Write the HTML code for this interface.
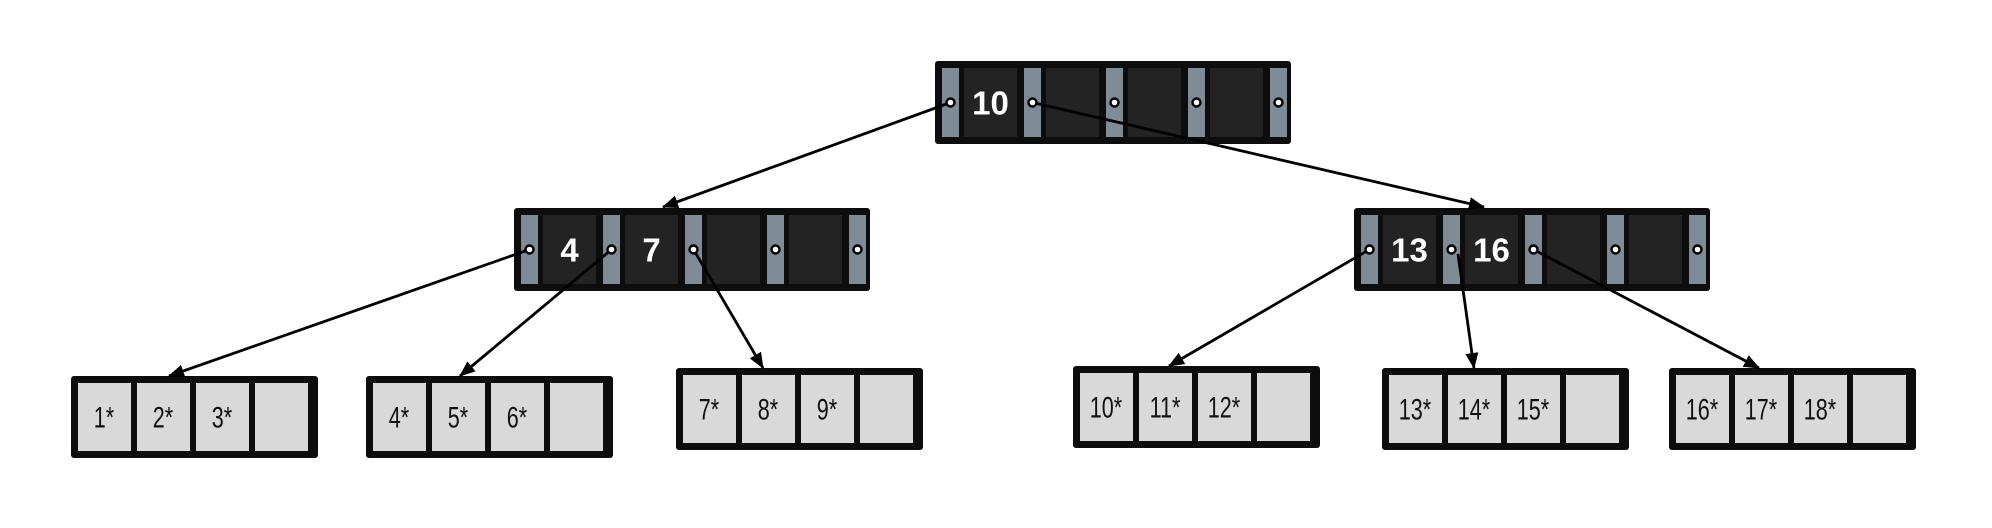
<!DOCTYPE html>
<html><head><meta charset="utf-8"><style>
html,body{margin:0;padding:0;background:#fff;}
svg{display:block;}
</style></head><body>
<svg id="tree" width="1992" height="528" viewBox="0 0 1992 528" xmlns="http://www.w3.org/2000/svg">
<defs><marker id="ah" markerWidth="16" markerHeight="13" refX="15" refY="6.5" orient="auto" markerUnits="userSpaceOnUse"><path d="M0,0 L16,6.5 L0,13 z" fill="#000"/></marker></defs>
<g id="lines"></g><g id="nodes"></g><g id="dots"></g>
</svg>
<script>
const innerNodes = [ {x:935,y:61,keys:["10"]}, {x:514,y:208,keys:["4","7"]}, {x:1354,y:208,keys:["13","16"]} ];
const innerNames = ["root-node","left-inner-node","right-inner-node"];
const leafX = [71,366,676,1073,1382,1669];
const leafY = [376,376,368,366,368,368];
const leafKeys = [["1*","2*","3*"],["4*","5*","6*"],["7*","8*","9*"],["10*","11*","12*"],["13*","14*","15*"],["16*","17*","18*"]];
const edges = [
 {n:0,p:0,tx:663,ty:207},{n:0,p:1,tx:1484,ty:207},
 {n:1,p:0,tx:169,ty:376},{n:1,p:1,tx:460,ty:376},{n:1,p:2,tx:763,ty:368},
 {n:2,p:0,tx:1169,ty:366},{n:2,p:1,tx:1474,ty:368,sx:1458,sy:254},{n:2,p:2,tx:1759,ty:368}
];
const NS="http://www.w3.org/2000/svg";
function mk(tag,attrs,parent){const e=document.createElementNS(NS,tag);for(const k in attrs)e.setAttribute(k,attrs[k]);parent.appendChild(e);return e;}
const gN=document.getElementById('nodes'),gD=document.getElementById('dots');
const PW=17,KW=53,STEP=82,H=83,B=7;
function ptrX(n,i){return n.x+B+PW/2+STEP*i;}
innerNodes.forEach((n,ni)=>{
  const g=mk('g',{},gN);
  
  
  mk('rect',{x:n.x,y:n.y,width:356,height:H,rx:3,fill:'#0d0d0d'},g);
  for(let i=0;i<5;i++){
    const px=n.x+B+STEP*i;
    const pr=mk('rect',{x:px,y:n.y+B,width:PW,height:H-2*B,fill:'#7f8b96'},g);
    
    
    if(i<4){
      const kr=mk('rect',{x:px+PW+5,y:n.y+B,width:KW,height:H-2*B,fill:'#232323'},g);
      
      
      if(n.keys[i]){
        const t=mk('text',{x:px+PW+5+KW/2,y:n.y+H/2+12,'text-anchor':'middle','font-family':'Liberation Sans, sans-serif','font-weight':'bold','font-size':'33',fill:'#fff'},g);
        t.textContent=n.keys[i];
        
        
      }
    }
    const c=mk('circle',{cx:ptrX(n,i),cy:n.y+H/2,r:4,fill:'#fff',stroke:'#000','stroke-width':2.4},gD);
    
    
  }
});
leafX.forEach((lx,li)=>{
  const ly=leafY[li];
  const g=mk('g',{},gN);
  
  
  mk('rect',{x:lx,y:ly,width:247,height:H-1,rx:3,fill:'#0d0d0d'},g);
  for(let i=0;i<4;i++){
    const cx=lx+B+59*i;
    const r=mk('rect',{x:cx,y:ly+B,width:53,height:H-1-2*B,fill:'#d9d9d9'},g);
    
    
    if(leafKeys[li][i]){
      const t=mk('text',{x:0,y:0,'text-anchor':'middle','font-family':'Liberation Sans, sans-serif','font-size':'30',fill:'#111',transform:'translate('+(cx+26)+','+(ly+H/2+10)+') scale(0.72,1)'},g);
      t.textContent=leafKeys[li][i];
      
      
    }
  }
});
edges.forEach(e=>{
  const n=innerNodes[e.n];
  const sx=e.sx!==undefined?e.sx:ptrX(n,e.p), sy=e.sy!==undefined?e.sy:n.y+H/2;
  const l=mk('line',{x1:sx,y1:sy,x2:e.tx,y2:e.ty,stroke:'#000','stroke-width':2.8,'marker-end':'url(#ah)'},gN);
  
  
});
gN.parentNode.appendChild(gD);
</script>
</body></html>
